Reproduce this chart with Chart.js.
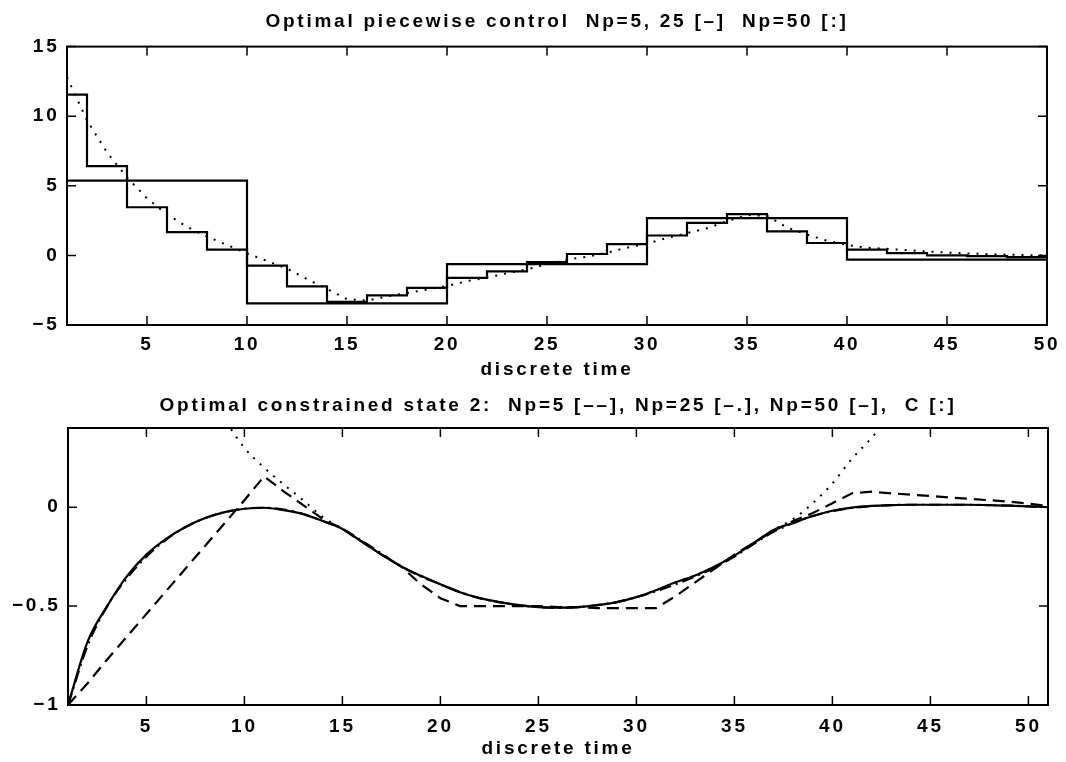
<!DOCTYPE html>
<html>
<head>
<meta charset="utf-8">
<script src="https://cdn.jsdelivr.net/npm/chart.js@4"></script>
<style>
  body { margin: 0; background: #fff; }
  canvas { display: block; }
</style>
</head>
<body>
<canvas id="controlChart" width="1066" height="381"></canvas>
<canvas id="stateChart" width="1066" height="381"></canvas>
<script>
// ---- top plot: piecewise control ----
const np5Breaks = [1, 10, 20, 30, 40, 50];
const np5Control = [5.37, -3.45, -0.62, 2.68, -0.31, -0.31];

const np25Breaks = [1, 2, 4, 6, 8, 10, 12, 14, 16, 18, 20, 22, 24, 26, 28, 30, 32, 34, 36, 38, 40, 42, 44, 46, 48, 50];
const np25Control = [11.55, 6.42, 3.46, 1.67, 0.41, -0.74, -2.22, -3.34, -2.87, -2.34, -1.62, -1.15, -0.48, 0.1, 0.81, 1.43, 2.34, 2.96, 1.72, 0.89, 0.41, 0.17, 0.0, -0.05, -0.12, -0.12];

const stepsTop = [1, 2, 3, 4, 5, 6, 7, 8, 9, 10, 11, 12, 13, 14, 15, 16, 17, 18, 19, 20, 21, 22, 23, 24, 25,
  26, 27, 28, 29, 30, 31, 32, 33, 34, 35, 36, 37, 38, 39, 40, 41, 42, 43, 44, 45, 46, 47, 48, 49, 50];
const np50Control = [12.8, 9.7, 7.4, 5.6, 4.1, 2.95, 2.05, 1.35, 0.75, 0.15, -0.4, -0.95, -1.7, -2.4, -3.15,
  -3.25, -2.95, -2.7, -2.45, -2.2, -1.85, -1.6, -1.28, -1.0, -0.65, -0.3, -0.1, 0.2, 0.55, 0.85,
  1.25, 1.6, 1.95, 2.45, 2.9, 2.85, 2.0, 1.5, 1.05, 0.75, 0.55, 0.47, 0.38, 0.28, 0.2, 0.14, 0.09, 0.05, 0.02, 0.0];

const topXTicks = [5, 10, 15, 20, 25, 30, 35, 40, 45, 50];
const topYTicks = [-5, 0, 5, 10, 15];

// ---- bottom plot: constrained state 2 ----
const stepsBottom = [1, 2, 3, 4, 5, 6, 7, 8, 9, 10, 11, 12, 13, 14, 15, 16, 17, 18, 19, 20, 21, 22, 23, 24, 25,
  26, 27, 28, 29, 30, 31, 32, 33, 34, 35, 36, 37, 38, 39, 40, 41, 42, 43, 44, 45, 46, 47, 48, 49, 50, 51];
const stateNp5 = [-1.0, -0.89, -0.77, -0.655, -0.54, -0.425, -0.31, -0.195, -0.08, 0.035, 0.155,
  0.08, 0.01, -0.06, -0.11, -0.175, -0.24, -0.3, -0.39, -0.46, -0.5,
  -0.5, -0.5, -0.5, -0.5, -0.505, -0.505, -0.51, -0.51, -0.51, -0.51,
  -0.45, -0.38, -0.31, -0.24, -0.18, -0.12, -0.07, -0.03, 0.02, 0.07,
  0.078, 0.07, 0.063, 0.056, 0.049, 0.042, 0.035, 0.028, 0.018, 0.005];
const stateNp25 = [-1.0, -0.7, -0.5, -0.36, -0.25, -0.165, -0.1, -0.055, -0.025, -0.008, -0.003,
  -0.012, -0.035, -0.07, -0.11, -0.17, -0.235, -0.3, -0.35, -0.39, -0.43,
  -0.46, -0.48, -0.495, -0.505, -0.508, -0.505, -0.495, -0.48, -0.455, -0.425,
  -0.39, -0.35, -0.305, -0.25, -0.185, -0.125, -0.08, -0.045, -0.02, -0.004,
  0.005, 0.01, 0.012, 0.012, 0.012, 0.012, 0.01, 0.008, 0.004, 0.0];
const stateNp50 = [-1.0, -0.68, -0.5, -0.35, -0.24, -0.16, -0.1, -0.055, -0.025, -0.008, -0.003,
  -0.015, -0.035, -0.07, -0.11, -0.175, -0.24, -0.3, -0.347, -0.39, -0.43,
  -0.46, -0.48, -0.495, -0.505, -0.508, -0.505, -0.495, -0.48, -0.455, -0.42,
  -0.38, -0.345, -0.3, -0.245, -0.18, -0.115, -0.08, -0.045, -0.018, -0.002,
  0.006, 0.01, 0.012, 0.012, 0.012, 0.012, 0.01, 0.008, 0.004, 0.0];
const stateC = [null, null, null, null, null, null, null, 0.58, 0.44, 0.3, 0.2,
  0.115, 0.035, -0.05, -0.11, -0.175, -0.24, -0.3, -0.347, -0.39, -0.43,
  -0.46, -0.48, -0.495, -0.505, -0.508, -0.505, -0.495, -0.48, -0.455, -0.42,
  -0.38, -0.345, -0.3, -0.245, -0.18, -0.115, -0.06, 0.02, 0.12, 0.245,
  0.35, 0.47, 0.6, null, null, null, null, null, null, null];

const bottomXTicks = [5, 10, 15, 20, 25, 30, 35, 40, 45, 50];
const bottomYTicks = [-1, -0.5, 0];

const FONT = { family: '"Liberation Sans", Arial, Helvetica, sans-serif', size: 19, weight: 'bold' };
const LETTER_SPACING = '2.75px'; // the old print has very wide text

const pts = (xs, ys) => xs.map((x, i) => ({ x, y: ys[i] }));
const minusLabel = (v) => String(v).replace('-', '\u2212');

// widen every text the chart draws
const wideText = {
  id: 'wideText',
  beforeDraw(chart) { chart.ctx.letterSpacing = LETTER_SPACING; }
};

// MATLAB-like box with inward ticks on all four sides
const boxTicks = {
  id: 'boxTicks',
  afterDatasetsDraw(chart) {
    const { ctx, chartArea: a, scales: { x, y } } = chart;
    const len = 9;
    ctx.save();
    ctx.strokeStyle = '#000';
    ctx.lineWidth = 2;
    ctx.strokeRect(a.left, a.top, a.width, a.height);
    ctx.lineWidth = 1.5;
    ctx.beginPath();
    x.ticks.forEach((t) => {
      const px = x.getPixelForValue(t.value);
      ctx.moveTo(px, a.bottom); ctx.lineTo(px, a.bottom - len);
      ctx.moveTo(px, a.top); ctx.lineTo(px, a.top + len);
    });
    y.ticks.forEach((t) => {
      const py = y.getPixelForValue(t.value);
      ctx.moveTo(a.left, py); ctx.lineTo(a.left + len, py);
      ctx.moveTo(a.right, py); ctx.lineTo(a.right - len, py);
    });
    ctx.stroke();
    ctx.restore();
  }
};

function makeOptions(cfg) {
  return {
    responsive: false,
    animation: false,
    devicePixelRatio: 1,
    layout: { padding: { left: 0, right: cfg.padRight, top: 0, bottom: 0 } },
    elements: { point: { radius: 0 }, line: { borderCapStyle: 'butt' } },
    plugins: {
      legend: { display: false },
      tooltip: { enabled: false },
      title: {
        display: true,
        text: cfg.title,
        color: '#000',
        font: FONT,
        fullSize: false,
        padding: cfg.titlePad
      }
    },
    scales: {
      x: {
        type: 'linear',
        min: cfg.xMin,
        max: cfg.xMax,
        grid: { display: false, drawTicks: false },
        border: { display: false },
        afterBuildTicks: (s) => { s.ticks = cfg.xTicks.map((v) => ({ value: v })); },
        afterFit: (s) => { s.height = cfg.xHeight; },
        ticks: { color: '#000', font: FONT, padding: cfg.xTickPad, maxRotation: 0, autoSkip: false },
        title: { display: true, text: 'discrete time', color: '#000', font: FONT, padding: { top: 0, bottom: cfg.xTitlePad } }
      },
      y: {
        min: cfg.yMin,
        max: cfg.yMax,
        grid: { display: false, drawTicks: false },
        border: { display: false },
        afterBuildTicks: (s) => { s.ticks = cfg.yTicks.map((v) => ({ value: v })); },
        afterFit: (s) => { s.width = cfg.yWidth; },
        ticks: { color: '#000', font: FONT, padding: 7.5, callback: (v) => minusLabel(v) }
      }
    }
  };
}

new Chart('controlChart', {
  type: 'line',
  data: {
    datasets: [
      { data: pts(np5Breaks, np5Control), stepped: 'before', borderColor: '#000', borderWidth: 2.2, clip: 0 },
      { data: pts(np25Breaks, np25Control), stepped: 'before', borderColor: '#000', borderWidth: 2.2, clip: 0 },
      { data: pts(stepsTop, np50Control), borderColor: '#000', borderWidth: 2, borderDash: [2, 7], clip: 0 }
    ]
  },
  options: makeOptions({
    title: 'Optimal piecewise control  Np=5, 25 [\u2013]  Np=50 [:]',
    titlePad: { top: 10.5, bottom: 13.3 },
    padRight: 19,
    xMin: 1, xMax: 50, xTicks: topXTicks, xHeight: 56, xTickPad: 8, xTitlePad: 0,
    yMin: -5, yMax: 15, yTicks: topYTicks, yWidth: 67
  }),
  plugins: [wideText, boxTicks]
});

new Chart('stateChart', {
  type: 'line',
  data: {
    datasets: [
      { data: pts(stepsBottom, stateC), borderColor: '#000', borderWidth: 2, borderDash: [2, 7], cubicInterpolationMode: 'monotone', clip: 0 },
      { data: pts(stepsBottom, stateNp5), borderColor: '#000', borderWidth: 2.2, borderDash: [12, 7], clip: 0 },
      { data: pts(stepsBottom, stateNp25), borderColor: '#000', borderWidth: 2.2, borderDash: [12, 5, 2, 5], cubicInterpolationMode: 'monotone', clip: 0 },
      { data: pts(stepsBottom, stateNp50), borderColor: '#000', borderWidth: 2.2, cubicInterpolationMode: 'monotone', clip: 0 }
    ]
  },
  options: makeOptions({
    title: 'Optimal constrained state 2:  Np=5 [\u2013\u2013], Np=25 [\u2013.], Np=50 [\u2013],  C [:]',
    titlePad: { top: 13, bottom: 11.2 },
    padRight: 18,
    xMin: 1, xMax: 51, xTicks: bottomXTicks, xHeight: 57, xTickPad: 10, xTitlePad: 2,
    yMin: -1, yMax: 0.4, yTicks: bottomYTicks, yWidth: 68
  }),
  plugins: [wideText, boxTicks]
});
</script>
</body>
</html>
